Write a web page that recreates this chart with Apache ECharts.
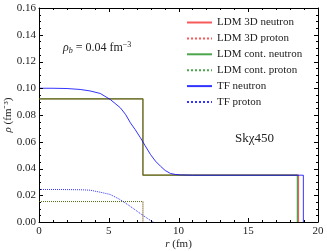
<!DOCTYPE html>
<html>
<head>
<meta charset="utf-8">
<script src="https://cdn.jsdelivr.net/npm/echarts@6/dist/echarts.min.js"></script>
<style>html,body{margin:0;padding:0;background:#fff}#c{width:327px;height:251px}</style>
</head>
<body>
<div id="c"></div>
<script>
// Data: [r (fm), rho (fm^-3)]
var ldm3dNeutron = [[0, 0.092], [7.45, 0.092], [7.45, 0.035], [18.6, 0.035], [18.6, 0]];
var ldm3dProton = [[0, 0.0153], [7.45, 0.0153], [7.45, 0]];
var ldmContNeutron = [[0, 0.092], [7.45, 0.092], [7.45, 0.035], [18.52, 0.035], [18.52, 0]];
var ldmContProton = [[0, 0.0153], [7.45, 0.0153], [7.45, 0]];
var tfNeutron = [[0, 0.1], [1, 0.1], [2, 0.0998], [2.95, 0.0991], [3.66, 0.098], [4.39, 0.0961], [5.11, 0.0916],
  [5.83, 0.0854], [6.2, 0.0805], [6.55, 0.0742], [6.9, 0.069], [7.27, 0.063], [7.6, 0.0572], [7.99, 0.0505],
  [8.35, 0.0455], [8.71, 0.0417], [9.05, 0.0385], [9.42, 0.0363], [9.8, 0.0355], [10.14, 0.0352], [11, 0.035],
  [18.95, 0.035], [18.95, 0]];
var tfProton = [[0, 0.0243], [1.5, 0.0243], [3, 0.0241], [3.66, 0.0238], [4.38, 0.0223], [5.1, 0.0206],
  [5.81, 0.0168], [6.53, 0.0118], [7.25, 0.0064], [7.97, 0.0013], [8.2, 0]];
var seriesNames = ['LDM 3D neutron', 'LDM 3D proton', 'LDM cont. neutron', 'LDM cont. proton', 'TF neutron', 'TF proton'];

var X_MIN = 0, X_MAX = 20, X_STEP = 5, X_MINOR = 1;
var Y_MIN = 0, Y_MAX = 0.16, Y_STEP = 0.02, Y_MINOR = 0.005;

var RED = 'rgba(245,0,0,0.65)', GREEN = 'rgba(0,128,0,0.7)', BLUE = 'rgba(0,0,255,0.8)';
var FONT = 'Liberation Serif';

// tick list: [axis (0 = x, 1 = y), value, length in px]
var ticks = [];
(function () {
  var i, n;
  n = Math.round((X_MAX - X_MIN) / X_MINOR);
  for (i = 0; i <= n; i++) ticks.push([0, X_MIN + i * X_MINOR, (i % Math.round(X_STEP / X_MINOR) === 0) ? 4 : 2]);
  n = Math.round((Y_MAX - Y_MIN) / Y_MINOR);
  for (i = 0; i <= n; i++) ticks.push([1, Y_MIN + i * Y_MINOR, (i % Math.round(Y_STEP / Y_MINOR) === 0) ? 4 : 2]);
})();

function mk(name, data, color, type, width) {
  return {
    name: name, type: 'line', data: data, symbol: 'none', showSymbol: false, animation: false,
    lineStyle: {color: color, type: type, width: width}, itemStyle: {color: color}
  };
}

function frameAxis(kind, pos, showLabel) {
  var isX = kind === 'x';
  var a = {
    type: 'value', position: pos,
    min: isX ? X_MIN : Y_MIN, max: isX ? X_MAX : Y_MAX, interval: isX ? X_STEP : Y_STEP,
    axisLine: {show: true, onZero: false, lineStyle: {color: '#000', width: 1}},
    axisTick: {show: false}, minorTick: {show: false},
    splitLine: {show: false}, minorSplitLine: {show: false},
    axisLabel: {show: showLabel, color: '#222', fontFamily: FONT, fontSize: 11, margin: isX ? 4 : 3}
  };
  if (!isX) a.axisLabel.formatter = function (v) { return v.toFixed(2); };
  if (showLabel) {
    a.name = isX ? '{i|r} (fm)' : '{i|ρ} (fm⁻³)';
    a.nameLocation = 'middle';
    a.nameGap = isX ? 17 : 25;
    a.nameMoveOverlap = false;
    if (!isX) a.nameRotate = 90;
    a.nameTextStyle = {color: '#222', fontFamily: FONT, fontSize: 11,
      rich: {i: {fontStyle: 'italic', fontFamily: FONT, fontSize: 11, color: '#222'}}};
  }
  return a;
}

var TICK_STYLE = {stroke: '#000', lineWidth: 1};
function tickLines(ax, v, len, coord) {
  var a, b;
  if (ax === 0) {
    a = coord([v, Y_MIN]); b = coord([v, Y_MAX]);
    var x = Math.round(a[0]) + 0.5;
    return [
      {type: 'line', shape: {x1: x, y1: a[1], x2: x, y2: a[1] - len}, style: TICK_STYLE},
      {type: 'line', shape: {x1: x, y1: b[1], x2: x, y2: b[1] + len}, style: TICK_STYLE}
    ];
  }
  a = coord([X_MIN, v]); b = coord([X_MAX, v]);
  var y = Math.round(a[1]) + 0.5;
  return [
    {type: 'line', shape: {x1: a[0], y1: y, x2: a[0] + len, y2: y}, style: TICK_STYLE},
    {type: 'line', shape: {x1: b[0], y1: y, x2: b[0] - len, y2: y}, style: TICK_STYLE}
  ];
}

function renderTick(params, api) {
  return {type: 'group', children: tickLines(api.value(0), api.value(1), api.value(2), api.coord)};
}

var annotations = [
  {type: 'text', left: 63, top: 41, style: {
    text: '{i|ρ}{s|b} = 0.04 fm{p|−3}', fill: '#222', font: '12px "Liberation Serif"',
    rich: {
      i: {fontStyle: 'italic', fontFamily: FONT, fontSize: 12},
      s: {fontStyle: 'italic', fontFamily: FONT, fontSize: 8, verticalAlign: 'bottom', padding: [6, 0, 0, 0]},
      p: {fontFamily: FONT, fontSize: 8, verticalAlign: 'top', padding: [0, 0, 6, 0]}
    }}},
  {type: 'text', left: 235, top: 132, style: {text: 'Skχ450', fill: '#222', font: '13px "Liberation Serif"'}}
];

var chart = echarts.init(document.getElementById('c'));
chart.setOption({
  animation: false,
  backgroundColor: '#fff',
  title: {show: true, text: ''},
  grid: {left: 39, right: 9, top: 8, bottom: 29, containLabel: false, outerBoundsMode: 'none'},
  xAxis: [frameAxis('x', 'bottom', true), frameAxis('x', 'top', false)],
  yAxis: [frameAxis('y', 'left', true), frameAxis('y', 'right', false)],
  legend: {
    show: true, data: seriesNames.map(function (n) { return {name: n}; }),
    orient: 'vertical', left: 186, top: 17, padding: 0,
    itemWidth: 25, itemHeight: 10, itemGap: 4.9,
    itemStyle: {opacity: 0},
    textStyle: {fontFamily: FONT, fontSize: 11, color: '#222'},
    selectedMode: false
  },
  series: [
    mk(seriesNames[0], ldm3dNeutron, RED, 'solid', 1.2),
    mk(seriesNames[1], ldm3dProton, RED, 'dotted', 1),
    mk(seriesNames[2], ldmContNeutron, GREEN, 'solid', 1.2),
    mk(seriesNames[3], ldmContProton, GREEN, 'dotted', 1),
    mk(seriesNames[4], tfNeutron, BLUE, 'solid', 1),
    mk(seriesNames[5], tfProton, BLUE, 'dotted', 1),
    {type: 'custom', data: ticks, renderItem: renderTick, clip: false, silent: true, animation: false, z: 5}
  ],
  graphic: annotations
});

// Second path for the ticks: graphic lines placed through the chart's own scales
try {
  var toPx = function (p) { return chart.convertToPixel({gridIndex: 0}, p); };
  var tickGraphics = [];
  ticks.forEach(function (t) {
    tickLines(t[0], t[1], t[2], toPx).forEach(function (el) {
      el.silent = true; el.z = 100; tickGraphics.push(el);
    });
  });
  chart.setOption({graphic: annotations.concat(tickGraphics)});
} catch (e) {}
</script>
</body>
</html>
